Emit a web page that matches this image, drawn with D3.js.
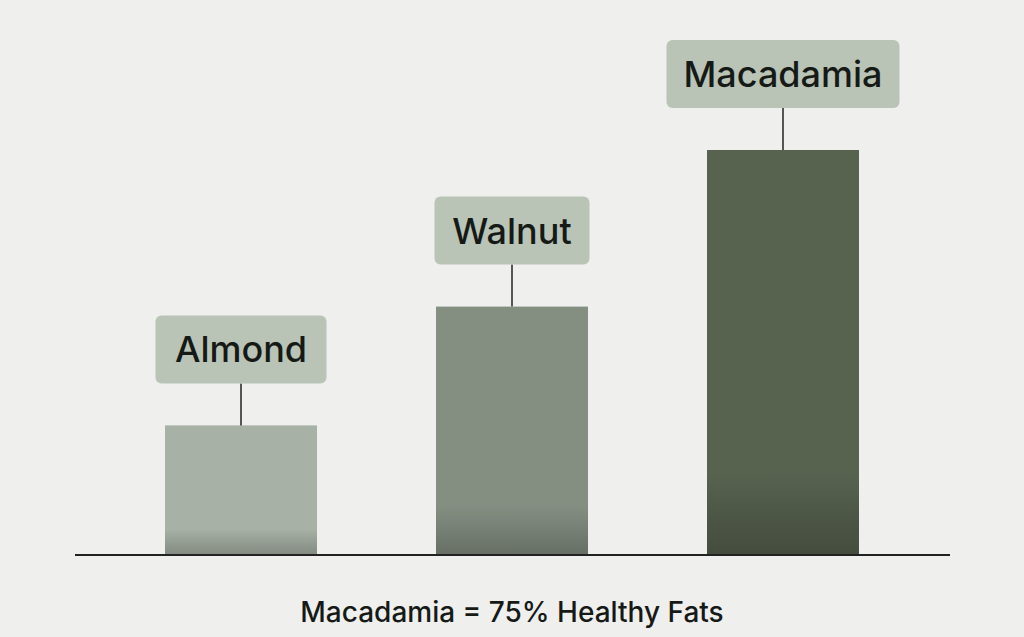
<!DOCTYPE html>
<html><head><meta charset="utf-8">
<script src="https://cdn.jsdelivr.net/npm/d3@7"></script>
<style>body{margin:0;background:#efefee;}svg{display:block;font-family:Inter,"Noto Sans",sans-serif;}</style>
</head><body>
<svg id="c" width="1024" height="637"></svg>
<script>
const categories = ["Almond", "Walnut", "Macadamia"];
const values = [24, 46, 75];
const barColors = ["#a7b1a5", "#848f82", "#57624f"];
const footer = "Macadamia = 75% Healthy Fats";

const svg = d3.select("#c");
const W = 1024, base = 555;
const x = d3.scalePoint().domain(categories).range([241, 783]);
const y = d3.scaleLinear().domain([0, 75]).range([base, 150]);
const bw = 152;

const defs = svg.append("defs");
categories.forEach((c, i) => {
  const g = defs.append("linearGradient").attr("id", "g" + i).attr("x1", 0).attr("y1", 0).attr("x2", 0).attr("y2", 1);
  g.append("stop").attr("offset", "0%").attr("stop-color", barColors[i]);
  g.append("stop").attr("offset", "80%").attr("stop-color", barColors[i]);
  g.append("stop").attr("offset", "100%").attr("stop-color", d3.color(barColors[i]).darker(0.7));
});

svg.selectAll("rect.bar").data(categories).join("rect").attr("class", "bar")
  .attr("x", d => x(d) - bw / 2).attr("width", bw)
  .attr("y", (d, i) => y(values[i])).attr("height", (d, i) => base - y(values[i]))
  .attr("fill", (d, i) => `url(#g${i})`);

svg.append("line").attr("x1", 75).attr("x2", 950).attr("y1", base).attr("y2", base)
  .attr("stroke", "#222").attr("stroke-width", 2);

const boxW = [171, 155, 233], boxH = 68, gap = 42;
categories.forEach((c, i) => {
  const top = y(values[i]);
  const by = top - gap - boxH;
  svg.append("line").attr("x1", x(c)).attr("x2", x(c)).attr("y1", top - gap).attr("y2", top)
    .attr("stroke", "#222").attr("stroke-width", 1.5);
  svg.append("rect").attr("x", x(c) - boxW[i] / 2).attr("y", by).attr("width", boxW[i]).attr("height", boxH)
    .attr("rx", 6).attr("fill", "#b9c4b7");
  svg.append("text").attr("x", x(c)).attr("y", by + boxH / 2 + 13).attr("text-anchor", "middle")
    .attr("font-size", 36).attr("font-weight", 500).attr("fill", "#161a16").text(c);
});

svg.append("text").attr("x", W / 2).attr("y", 622).attr("text-anchor", "middle")
  .attr("font-size", 28).attr("font-weight", 500).attr("fill", "#161a16").text(footer);
</script>
</body></html>
